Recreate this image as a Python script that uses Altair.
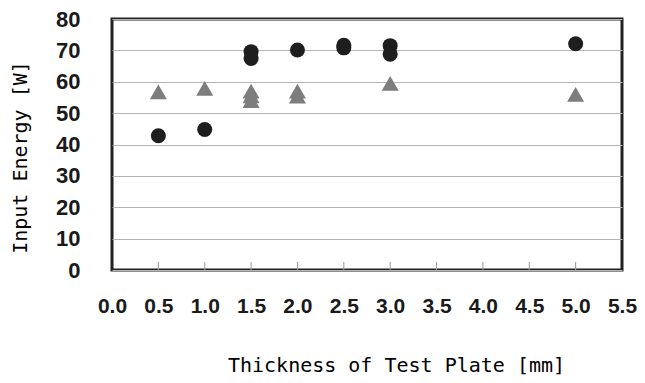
import altair as alt
import pandas as pd

# Data
circle_x = [0.5, 1.0, 1.5, 1.5, 2.0, 2.5, 2.5, 3.0, 3.0, 5.0]
circle_y = [42.8, 44.8, 69.6, 67.4, 70.1, 71.6, 70.8, 71.5, 68.8, 72.1]
tri_x = [0.5, 1.0, 1.5, 1.5, 1.5, 2.0, 2.0, 3.0, 5.0]
tri_y = [56.8, 57.9, 57.0, 55.5, 54.0, 57.0, 55.4, 59.5, 56.0]
x_ticks = [0.5, 1.0, 1.5, 2.0, 2.5, 3.0, 3.5, 4.0, 4.5, 5.0]
x_labels = [0.0, 0.5, 1.0, 1.5, 2.0, 2.5, 3.0, 3.5, 4.0, 4.5, 5.0, 5.5]
y_labels = [0, 10, 20, 30, 40, 50, 60, 70, 80]

df = pd.DataFrame({
    "x": circle_x + tri_x,
    "y": circle_y + tri_y,
    "series": ["circle"] * len(circle_x) + ["triangle"] * len(tri_x),
})
ticks_df = pd.DataFrame({"t": x_ticks})

W, H = 510, 251
LABEL_FONT = "Liberation Sans"
TITLE_FONT = "DejaVu Sans Mono"

x_scale = alt.Scale(domain=[0, 5.5], nice=False, zero=False)
y_scale = alt.Scale(domain=[0, 80], nice=False)

x_axis = alt.Axis(
    values=x_labels, format=".1f", ticks=False, domain=False, grid=False,
    labelPadding=25, labelFontSize=21, labelFont=LABEL_FONT, labelFontWeight="bold",
    labelColor="#1a1a1a", labelFlush=False, labelOverlap=False, labelBound=False,
    title="Thickness of Test Plate [mm]", titleFont=TITLE_FONT, titleFontSize=20,
    titleFontWeight="normal", titleColor="#000", titleX=284, titleY=95,
    titleAlign="center", titleBaseline="middle",
)
y_axis = alt.Axis(
    values=y_labels, ticks=False, domain=False, grid=True,
    gridColor="#b4b4b4", gridWidth=1,
    labelPadding=32, labelFontSize=22, labelFont=LABEL_FONT, labelFontWeight="bold",
    labelColor="#1a1a1a", labelOverlap=False, labelBound=False,
    title="Input Energy [W]", titleFont=TITLE_FONT, titleFontSize=20,
    titleFontWeight="normal", titleColor="#000", titleX=-92, titleY=138,
    titleAngle=270, titleAlign="center", titleBaseline="middle",
)

points = alt.Chart(df).mark_point(filled=True, opacity=1, strokeWidth=0).encode(
    x=alt.X("x:Q", scale=x_scale, axis=x_axis),
    y=alt.Y("y:Q", scale=y_scale, axis=y_axis),
    shape=alt.Shape("series:N", scale=alt.Scale(domain=["circle", "triangle"],
                                                range=["circle", "triangle-up"]), legend=None),
    color=alt.Color("series:N", scale=alt.Scale(domain=["circle", "triangle"],
                                                range=["#1e1e1e", "#7d7d7d"]), legend=None),
    size=alt.Size("series:N", scale=alt.Scale(domain=["circle", "triangle"],
                                              range=[225, 290]), legend=None),
)

tick_marks = alt.Chart(ticks_df).mark_rule(color="#999999", strokeWidth=1).encode(
    x=alt.X("t:Q", scale=x_scale, axis=x_axis),
    y=alt.value(H - 8),
    y2=alt.value(H),
)

chart = alt.layer(points, tick_marks).properties(
    width=W, height=H,
    autosize=alt.AutoSizeParams(type="none"),
    padding={"left": 104, "top": 11, "right": 15, "bottom": 105},
    background="white",
).configure_view(stroke="#222222", strokeWidth=3)

chart.save("out.html", embed_options={"renderer": "svg", "actions": False})
